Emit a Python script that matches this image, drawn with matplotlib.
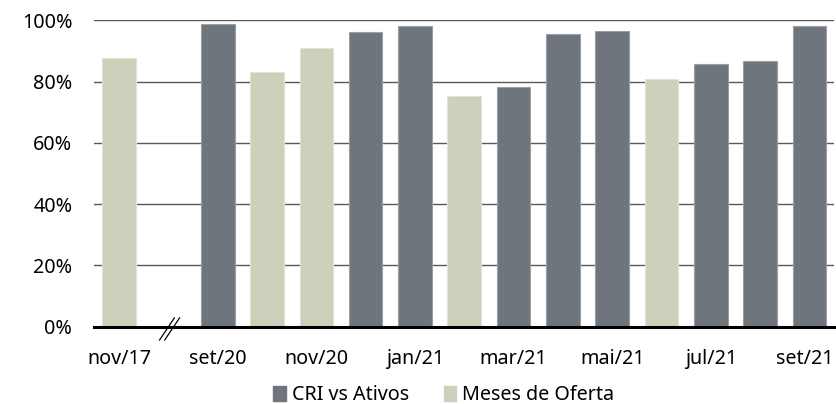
import matplotlib
matplotlib.use("Agg")
import matplotlib.pyplot as plt
from matplotlib.patches import Patch
from matplotlib.lines import Line2D
from matplotlib.transforms import ScaledTranslation

plt.rcParams['font.family'] = ['Noto Sans', 'DejaVu Sans']

categories = ["nov/17", "", "set/20", "out/20", "nov/20", "dez/20", "jan/21", "fev/21",
              "mar/21", "abr/21", "mai/21", "jun/21", "jul/21", "ago/21", "set/21"]
values = [87.6, None, 98.7, 83.0, 90.8, 96.1, 98.1, 75.2,
          78.3, 95.5, 96.5, 80.9, 85.6, 86.6, 98.1]
series = ["oferta", None, "cri", "oferta", "oferta", "cri", "cri", "oferta",
          "cri", "cri", "cri", "oferta", "cri", "cri", "cri"]
tick_labels = ["nov/17", "set/20", "nov/20", "jan/21", "mar/21", "mai/21", "jul/21", "set/21"]
tick_pos = [0, 2, 4, 6, 8, 10, 12, 14]
yticks = [0, 20, 40, 60, 80, 100]
legend_labels = ["CRI vs Ativos", "Meses de Oferta"]

C_DARK = "#6f757c"
C_LIGHT = "#cdd1bb"
colors = {"cri": C_DARK, "oferta": C_LIGHT}
edges = {"cri": "#9aa0a6", "oferta": "#e0e3d6"}

FS = 14.2

fig = plt.figure(figsize=(8.37, 4.04), dpi=100)
ax = fig.add_axes([94.5/837, 1-326.5/404, (834-94.5)/837, (326.5-20.3)/404])

for i, (v, s) in enumerate(zip(values, series)):
    if v is None:
        continue
    ax.bar(i, v, width=0.68, color=colors[s], edgecolor=edges[s], linewidth=0.8, zorder=3)

ax.set_xlim(-0.5, len(categories) - 0.5)
ax.set_ylim(0, 100)
ax.set_yticks(yticks)
ax.set_yticklabels([f"{t}%" for t in yticks])
ax.set_xticks(tick_pos)
ax.set_xticklabels(tick_labels)
for y in yticks[1:]:
    ax.axhline(y, color="#595959", linewidth=1.0, zorder=1)
ax.axhline(0, color="black", linewidth=2.2, zorder=4, clip_on=False)

for sp in ax.spines.values():
    sp.set_visible(False)
ax.tick_params(axis='both', length=0, labelsize=FS, colors="#000000")
ax.tick_params(axis='y', pad=16)
ax.tick_params(axis='x', pad=16)

# keep the last label inside the figure edge
last = ax.get_xticklabels()[-1]
last.set_transform(last.get_transform() + ScaledTranslation(-5/100, 0, fig.dpi_scale_trans))

# axis break marks
for dx in (-0.03, 0.075):
    ax.add_line(Line2D([1.0 + dx - 0.15, 1.0 + dx + 0.15], [-4.4, 2.8],
                       color="black", linewidth=0.9, clip_on=False, zorder=5))

handles = [Patch(facecolor=C_DARK, edgecolor=C_DARK),
           Patch(facecolor=C_LIGHT, edgecolor=C_LIGHT)]
fig.legend(handles, legend_labels, loc="center", bbox_to_anchor=(444/837, 1-395.5/404),
           ncol=2, frameon=False, fontsize=FS, handlelength=0.62, handleheight=0.75,
           handletextpad=0.3, columnspacing=1.8, borderaxespad=0, borderpad=0)

fig.savefig("out.png", dpi=100)
